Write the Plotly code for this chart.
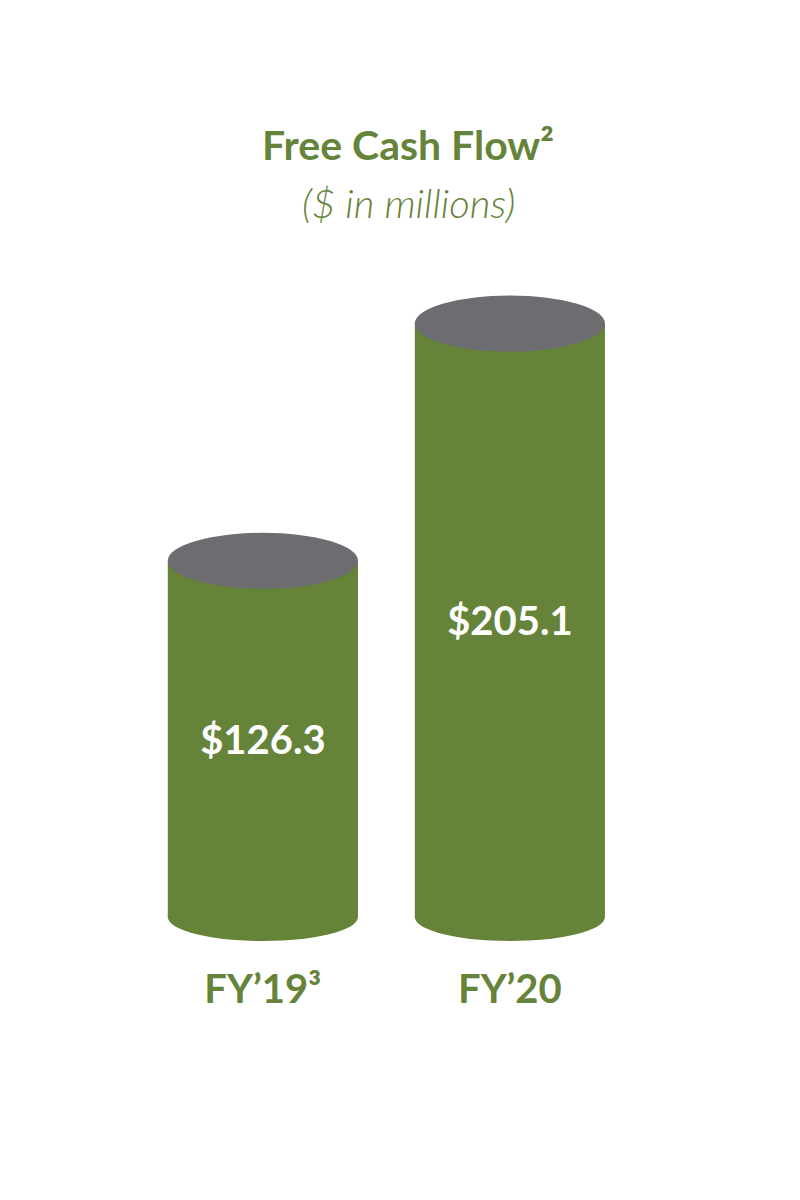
import plotly.graph_objects as go

# data
categories = ["FY’19³", "FY’20"]
values = [126.3, 205.1]
value_labels = ["$126.3", "$205.1"]

GREEN = "#65843A"
GRAY = "#6D6C71"
FONT = "Lato"

# pixel helpers (plot area 681px tall, range 0..226.2)
PX = 681 / 226.2
top_ry = 28 / PX      # cap ellipse half height
bot_ry = 24 / PX      # bottom ellipse half height
bar_w = 0.77

fig = go.Figure()

fig.add_trace(
    go.Bar(
        x=categories,
        y=[v - bot_ry for v in values],
        base=bot_ry,
        width=bar_w,
        marker=dict(color=GREEN, line=dict(width=0)),
        text=value_labels,
        textposition="inside",
        insidetextanchor="middle",
        textangle=0,
        textfont=dict(family=FONT, size=40, color="white", weight=700),
        hoverinfo="skip",
    )
)

# cylinder bottoms and tops
for i, v in enumerate(values):
    fig.add_shape(
        type="circle", xref="x", yref="y",
        x0=i - bar_w / 2, x1=i + bar_w / 2,
        y0=0, y1=2 * bot_ry,
        fillcolor=GREEN, line=dict(width=0), layer="below",
    )
    fig.add_shape(
        type="circle", xref="x", yref="y",
        x0=i - bar_w / 2, x1=i + bar_w / 2,
        y0=v - top_ry, y1=v + top_ry,
        fillcolor=GRAY, line=dict(width=0), layer="above",
    )

# subtitle
fig.add_annotation(
    text="($ in millions)",
    xref="paper", yref="paper",
    x=0.5, y=(933 - 195) / 681,
    xanchor="center", yanchor="middle",
    showarrow=False,
    font=dict(family=FONT, size=40, color=GREEN, style="italic", weight=300),
)

fig.update_layout(
    width=800,
    height=1200,
    paper_bgcolor="white",
    plot_bgcolor="white",
    showlegend=False,
    margin=dict(l=0, r=0, t=252, b=267),
    title=dict(
        text="Free Cash Flow²",
        x=0.5, xanchor="center",
        y=1 - 138 / 1200, yref="container", yanchor="middle",
        font=dict(family=FONT, size=41, color=GREEN, weight=700),
    ),
    xaxis=dict(
        range=[-1.032, 2.207],
        showgrid=False, zeroline=False, showline=False, ticks="",
        tickfont=dict(family=FONT, size=40, color=GREEN, weight=700),
        ticklabelstandoff=21,
        fixedrange=True,
    ),
    yaxis=dict(
        range=[0, 226.2],
        visible=False,
        fixedrange=True,
    ),
)

fig.write_html("out.html")
